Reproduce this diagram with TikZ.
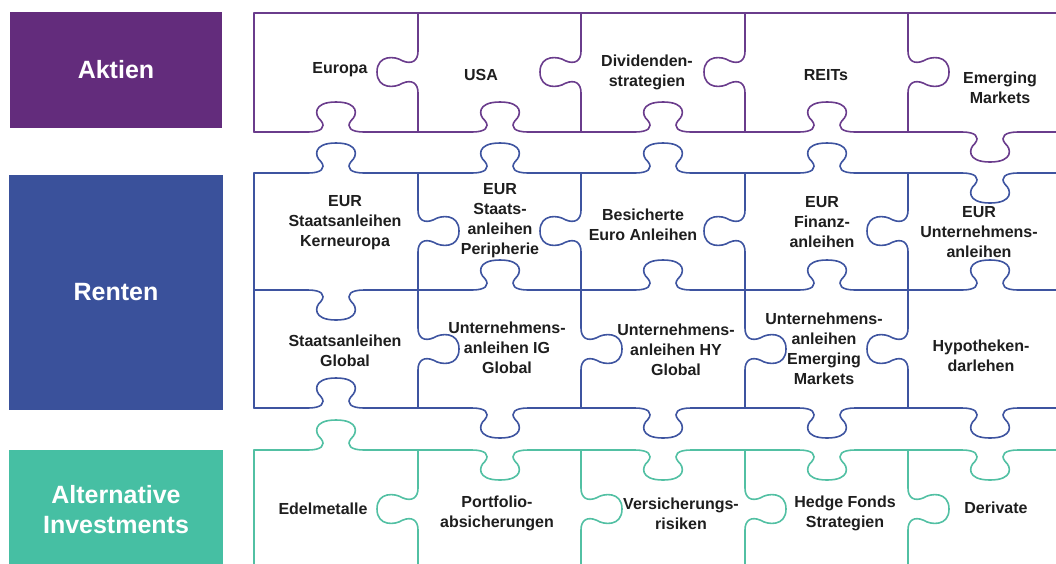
\documentclass[tikz,border=0pt]{standalone}
\usepackage{fontspec}
\setmainfont{Liberation Sans}
\usepackage{xcolor}

\definecolor{aktien}{HTML}{632C7C}
\definecolor{renten}{HTML}{3A519B}
\definecolor{altinv}{HTML}{46BFA3}
\definecolor{aktline}{HTML}{6A3C8C}
\definecolor{rentline}{HTML}{3E54A0}
\definecolor{altline}{HTML}{52C0A3}
\definecolor{labeltext}{HTML}{1E1E1E}

% knob sizes: horizontal seams and vertical seams
\def\hkw{21.5}
\def\hkd{30}
\def\vkw{16}
\def\vkd{41}

% knob on a horizontal seam: centre x, seam y, direction (+1 down, -1 up)
\newcommand{\hknob}[3]{-- ({#1-1.3*\hkw},#2)
  .. controls ({#1-0.7*\hkw},#2) and ({#1-0.45*\hkw},{#2+(#3)*0.15*\hkd}) .. ({#1-0.7*\hkw},{#2+(#3)*0.38*\hkd})
  .. controls ({#1-1.0*\hkw},{#2+(#3)*0.55*\hkd}) and ({#1-1.1*\hkw},{#2+(#3)*\hkd}) .. ({#1},{#2+(#3)*\hkd})
  .. controls ({#1+1.1*\hkw},{#2+(#3)*\hkd}) and ({#1+1.0*\hkw},{#2+(#3)*0.55*\hkd}) .. ({#1+0.7*\hkw},{#2+(#3)*0.38*\hkd})
  .. controls ({#1+0.45*\hkw},{#2+(#3)*0.15*\hkd}) and ({#1+0.7*\hkw},#2) .. ({#1+1.3*\hkw},#2)}

% knob on a vertical seam: seam x, centre y, direction (+1 right, -1 left)
\newcommand{\vknob}[3]{-- (#1,{#2-1.3*\vkw})
  .. controls (#1,{#2-0.7*\vkw}) and ({#1+(#3)*0.15*\vkd},{#2-0.45*\vkw}) .. ({#1+(#3)*0.38*\vkd},{#2-0.7*\vkw})
  .. controls ({#1+(#3)*0.55*\vkd},{#2-1.0*\vkw}) and ({#1+(#3)*\vkd},{#2-1.1*\vkw}) .. ({#1+(#3)*\vkd},#2)
  .. controls ({#1+(#3)*\vkd},{#2+1.1*\vkw}) and ({#1+(#3)*0.55*\vkd},{#2+1.0*\vkw}) .. ({#1+(#3)*0.38*\vkd},{#2+0.7*\vkw})
  .. controls ({#1+(#3)*0.15*\vkd},{#2+0.45*\vkw}) and (#1,{#2+0.7*\vkw}) .. (#1,{#2+1.3*\vkw})}

\tikzset{
  classbox/.style={fill=#1, draw=none, text=white, align=center, inner sep=0pt,
    font=\bfseries\fontsize{25}{30}\selectfont},
  piece/.style={text=labeltext, align=center, inner sep=0pt,
    font=\bfseries\fontsize{16}{20}\selectfont},
  seamline/.style={draw=#1, line width=1.6pt, line cap=round, line join=round}
}

\begin{document}
\begin{tikzpicture}[x=1pt, y=-1pt]
    \useasboundingbox (0,0) rectangle (1056,563);
    \clip (0,0) rectangle (1056,563);

    % Coloured class boxes on the left
    \node[classbox=aktien, minimum width=212pt, minimum height=116pt] (aktien) at (116,70) {Aktien};
    \node[classbox=renten, minimum width=214pt, minimum height=235pt] (renten) at (116,292.5) {Renten};
    \node[classbox=altinv, minimum width=214pt, minimum height=120pt] (altinv) at (116,510) {Alternative\\Investments};

    % Aktien row
    \draw[seamline=aktline] (254,132) -- (254,13) -- (1060,13);
    \foreach \c/\s in {336/-1, 500/-1, 663/-1, 827/-1, 990/1} {
        \draw[seamline=aktline] ({\c-82},132) \hknob{\c}{132}{\s} -- ({\c+82},132);
    }
    \foreach \x/\s in {418/-1, 581/-1, 745/-1, 908/1} {
        \draw[seamline=aktline] (\x,13) \vknob{\x}{72}{\s} -- (\x,132);
    }

    % Renten rows
    \draw[seamline=rentline] (254,173) -- (254,408);
    \foreach \c/\s in {336/-1, 500/-1, 663/-1, 827/-1, 990/1} {
        \draw[seamline=rentline] ({\c-82},173) \hknob{\c}{173}{\s} -- ({\c+82},173);
    }
    \foreach \c/\s in {336/1, 500/-1, 663/-1, 827/-1, 990/-1} {
        \draw[seamline=rentline] ({\c-82},290) \hknob{\c}{290}{\s} -- ({\c+82},290);
    }
    \foreach \c/\s in {336/-1, 500/1, 663/1, 827/1, 990/1} {
        \draw[seamline=rentline] ({\c-82},408) \hknob{\c}{408}{\s} -- ({\c+82},408);
    }
    \foreach \x/\s in {418/1, 581/-1, 745/-1, 908/-1} {
        \draw[seamline=rentline] (\x,173) \vknob{\x}{231}{\s} -- (\x,290);
    }
    \foreach \x/\s in {418/1, 581/1, 745/1, 908/-1} {
        \draw[seamline=rentline] (\x,290) \vknob{\x}{349}{\s} -- (\x,408);
    }

    % Alternative Investments row
    \draw[seamline=altline] (254,450) -- (254,570);
    \foreach \c/\s in {336/-1, 500/1, 663/1, 827/1, 990/1} {
        \draw[seamline=altline] ({\c-82},450) \hknob{\c}{450}{\s} -- ({\c+82},450);
    }
    \foreach \x/\s in {418/-1, 581/1, 745/1, 908/1} {
        \draw[seamline=altline] (\x,450) \vknob{\x}{509}{\s} -- (\x,570);
    }

    % Piece labels
    \node[piece] (europa) at (340,70) {Europa};
    \node[piece] (usa) at (481,75) {USA};
    \node[piece] (dividenden) at (647,72) {Dividenden-\\strategien};
    \node[piece] (reits) at (826,75) {REITs};
    \node[piece] (emaktien) at (1000,88) {Emerging\\Markets};

    \node[piece] (kerneuropa) at (345,223) {EUR\\Staatsanleihen\\Kerneuropa};
    \node[piece] (peripherie) at (500,221) {EUR\\Staats-\\anleihen\\Peripherie};
    \node[piece] (besichert) at (643,225) {Besicherte\\Euro Anleihen};
    \node[piece] (finanz) at (822,222) {EUR\\Finanz-\\anleihen};
    \node[piece] (unternehmen) at (979,232) {EUR\\Unternehmens-\\anleihen};

    \node[piece] (staatglobal) at (345,351) {Staatsanleihen\\Global};
    \node[piece] (igglobal) at (507,348) {Unternehmens-\\anleihen IG\\Global};
    \node[piece] (hyglobal) at (676,350) {Unternehmens-\\anleihen HY\\Global};
    \node[piece] (emrenten) at (824,349) {Unternehmens-\\anleihen\\Emerging\\Markets};
    \node[piece] (hypothek) at (981,356) {Hypotheken-\\darlehen};

    \node[piece] (edelmetalle) at (323,509) {Edelmetalle};
    \node[piece] (portfolio) at (497,513) {Portfolio-\\absicherungen};
    \node[piece] (versicherung) at (681,514) {Versicherungs-\\risiken};
    \node[piece] (hedgefonds) at (845,513) {Hedge Fonds\\Strategien};
    \node[piece] (derivate) at (996,508) {Derivate};
\end{tikzpicture}
\end{document}
